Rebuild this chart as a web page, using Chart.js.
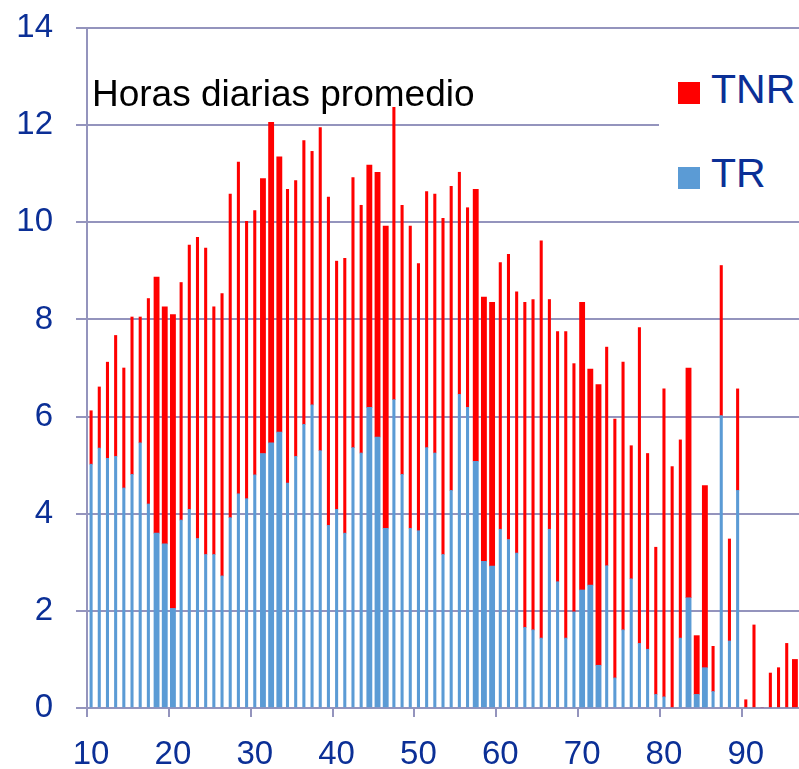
<!DOCTYPE html>
<html>
<head>
<meta charset="utf-8">
<script src="https://cdn.jsdelivr.net/npm/chart.js@4"></script>
<style>
  body { margin: 0; background: #fff; overflow: hidden; }
  #caja { position: relative; width: 799px; height: 769px; }
  .txt { position: absolute; font-family: "Liberation Sans", Arial, sans-serif; white-space: nowrap; }
  .cuadro { position: absolute; width: 22px; height: 22px; }
</style>
</head>
<body>
<div id="caja">
  <canvas id="grafica" width="799" height="769"></canvas>
  <div class="txt" style="left:90px; top:75px; height:32px; font-size:37px; line-height:37px; color:#000; background:#fff; padding-left:2px; padding-right:4px;">Horas diarias promedio</div>
  <div style="position:absolute; left:659px; top:55px; width:140px; height:150px; background:#fff;"></div>
  <div class="cuadro" style="left:678px; top:82px; background:#ff0000;"></div>
  <div class="txt" style="left:711px; top:69px; font-size:41px; line-height:41px; color:#0b2f96;">TNR</div>
  <div class="cuadro" style="left:678px; top:167px; background:#5b9bd5;"></div>
  <div class="txt" style="left:711px; top:153px; font-size:41px; line-height:41px; color:#0b2f96;">TR</div>
</div>
<script>
// edades 10 a 96
const edades = [10, 11, 12, 13, 14, 15, 16, 17, 18, 19, 20, 21, 22, 23, 24, 25, 26, 27, 28, 29,
  30, 31, 32, 33, 34, 35, 36, 37, 38, 39, 40, 41, 42, 43, 44, 45, 46, 47, 48, 49,
  50, 51, 52, 53, 54, 55, 56, 57, 58, 59, 60, 61, 62, 63, 64, 65, 66, 67, 68, 69,
  70, 71, 72, 73, 74, 75, 76, 77, 78, 79, 80, 81, 82, 83, 84, 85, 86, 87, 88, 89,
  90, 91, 92, 93, 94, 95, 96];

const tr = [5.02, 5.35, 5.14, 5.18, 4.53, 4.81, 5.46, 4.20, 3.60, 3.38, 2.05, 3.87, 4.09, 3.49, 3.16, 3.16, 2.72, 3.92, 4.41, 4.31,
  4.80, 5.24, 5.46, 5.68, 4.63, 5.18, 5.84, 6.24, 5.30, 3.76, 4.09, 3.60, 5.36, 5.25, 6.19, 5.58, 3.70, 6.35, 4.81, 3.70,
  3.65, 5.36, 5.25, 3.16, 4.48, 6.46, 6.19, 5.08, 3.02, 2.92, 3.68, 3.47, 3.19, 1.66, 1.61, 1.44, 3.68, 2.60, 1.44, 1.98,
  2.43, 2.53, 0.88, 2.93, 0.62, 1.61, 2.66, 1.33, 1.21, 0.28, 0.23, 0, 1.44, 2.27, 0.28, 0.83, 0.34, 6.02, 1.38, 4.48,
  0, 0, 0, 0, 0, 0, 0];

const tnr = [1.10, 1.26, 1.98, 2.49, 2.47, 3.24, 2.59, 4.23, 5.27, 4.88, 6.05, 4.89, 5.44, 6.20, 6.31, 5.10, 5.81, 6.66, 6.83, 5.71,
  5.44, 5.66, 6.60, 5.67, 6.05, 5.68, 5.84, 5.22, 6.65, 6.76, 5.11, 5.66, 5.56, 5.10, 4.99, 5.45, 6.22, 6.26, 5.54, 6.22,
  5.50, 5.27, 5.33, 6.92, 6.26, 4.57, 4.11, 5.60, 5.44, 5.43, 5.49, 5.87, 5.38, 6.69, 6.80, 8.18, 4.73, 5.15, 6.31, 5.11,
  5.92, 4.45, 5.78, 4.50, 5.33, 5.51, 2.74, 6.50, 4.03, 3.03, 6.34, 4.97, 4.08, 4.73, 1.21, 3.75, 0.93, 3.09, 2.10, 2.09,
  0.17, 1.71, 0, 0.72, 0.83, 1.33, 1.00];

// barras que en la imagen salen mas anchas
const barrasGruesas = [18, 19, 20, 31, 32, 33, 44, 45, 46, 57, 58, 59, 70, 71, 72, 83, 84, 85, 96];

const azul = "#5b9bd5";
const rojo = "#ff0000";
const gris = "#9494bd";
const azulOscuro = "#0b2f96";
const fuente = "Liberation Sans, Arial, sans-serif";

function serie(valores, gruesa) {
  return valores.map((v, i) => barrasGruesas.includes(edades[i]) === gruesa ? v : null);
}

const ctx = document.getElementById("grafica").getContext("2d");
new Chart(ctx, {
  type: "bar",
  data: {
    labels: edades,
    datasets: [
      { label: "TR", data: serie(tr, false), backgroundColor: azul, barThickness: 2.4 },
      { label: "TNR", data: serie(tnr, false), backgroundColor: rojo, barThickness: 2.4 },
      { label: "TR", data: serie(tr, true), backgroundColor: azul, barThickness: 5.2 },
      { label: "TNR", data: serie(tnr, true), backgroundColor: rojo, barThickness: 5.2 }
    ]
  },
  options: {
    responsive: false,
    animation: false,
    layout: { padding: { top: 28, right: 0, bottom: 0, left: 0 } },
    plugins: {
      legend: { display: false },
      tooltip: { enabled: false }
    },
    scales: {
      x: {
        stacked: true,
        offset: true,
        grid: {
          offset: true,
          drawOnChartArea: false,
          tickLength: 9,
          lineWidth: 2,
          color: c => (c.index % 10 === 0 ? gris : "rgba(0,0,0,0)")
        },
        border: { color: gris, width: 2 },
        ticks: {
          autoSkip: false,
          maxRotation: 0,
          padding: 18,
          color: azulOscuro,
          font: { family: fuente, size: 33 },
          callback: function (v, i) {
            return edades[i] % 10 === 0 ? String(edades[i]) : "";
          }
        },
        afterFit: s => {
          s.height = 61;
          s.paddingLeft = 0;
          s.paddingRight = 0;
        }
      },
      y: {
        stacked: true,
        min: 0,
        max: 14,
        grid: { color: gris, lineWidth: 2, tickLength: 11 },
        border: { color: gris, width: 2 },
        ticks: {
          stepSize: 2,
          padding: 23,
          color: azulOscuro,
          font: { family: fuente, size: 33 }
        },
        afterFit: s => {
          s.width = 87;
          s.paddingTop = 0;
          s.paddingBottom = 0;
        }
      }
    }
  }
});
</script>
</body>
</html>
